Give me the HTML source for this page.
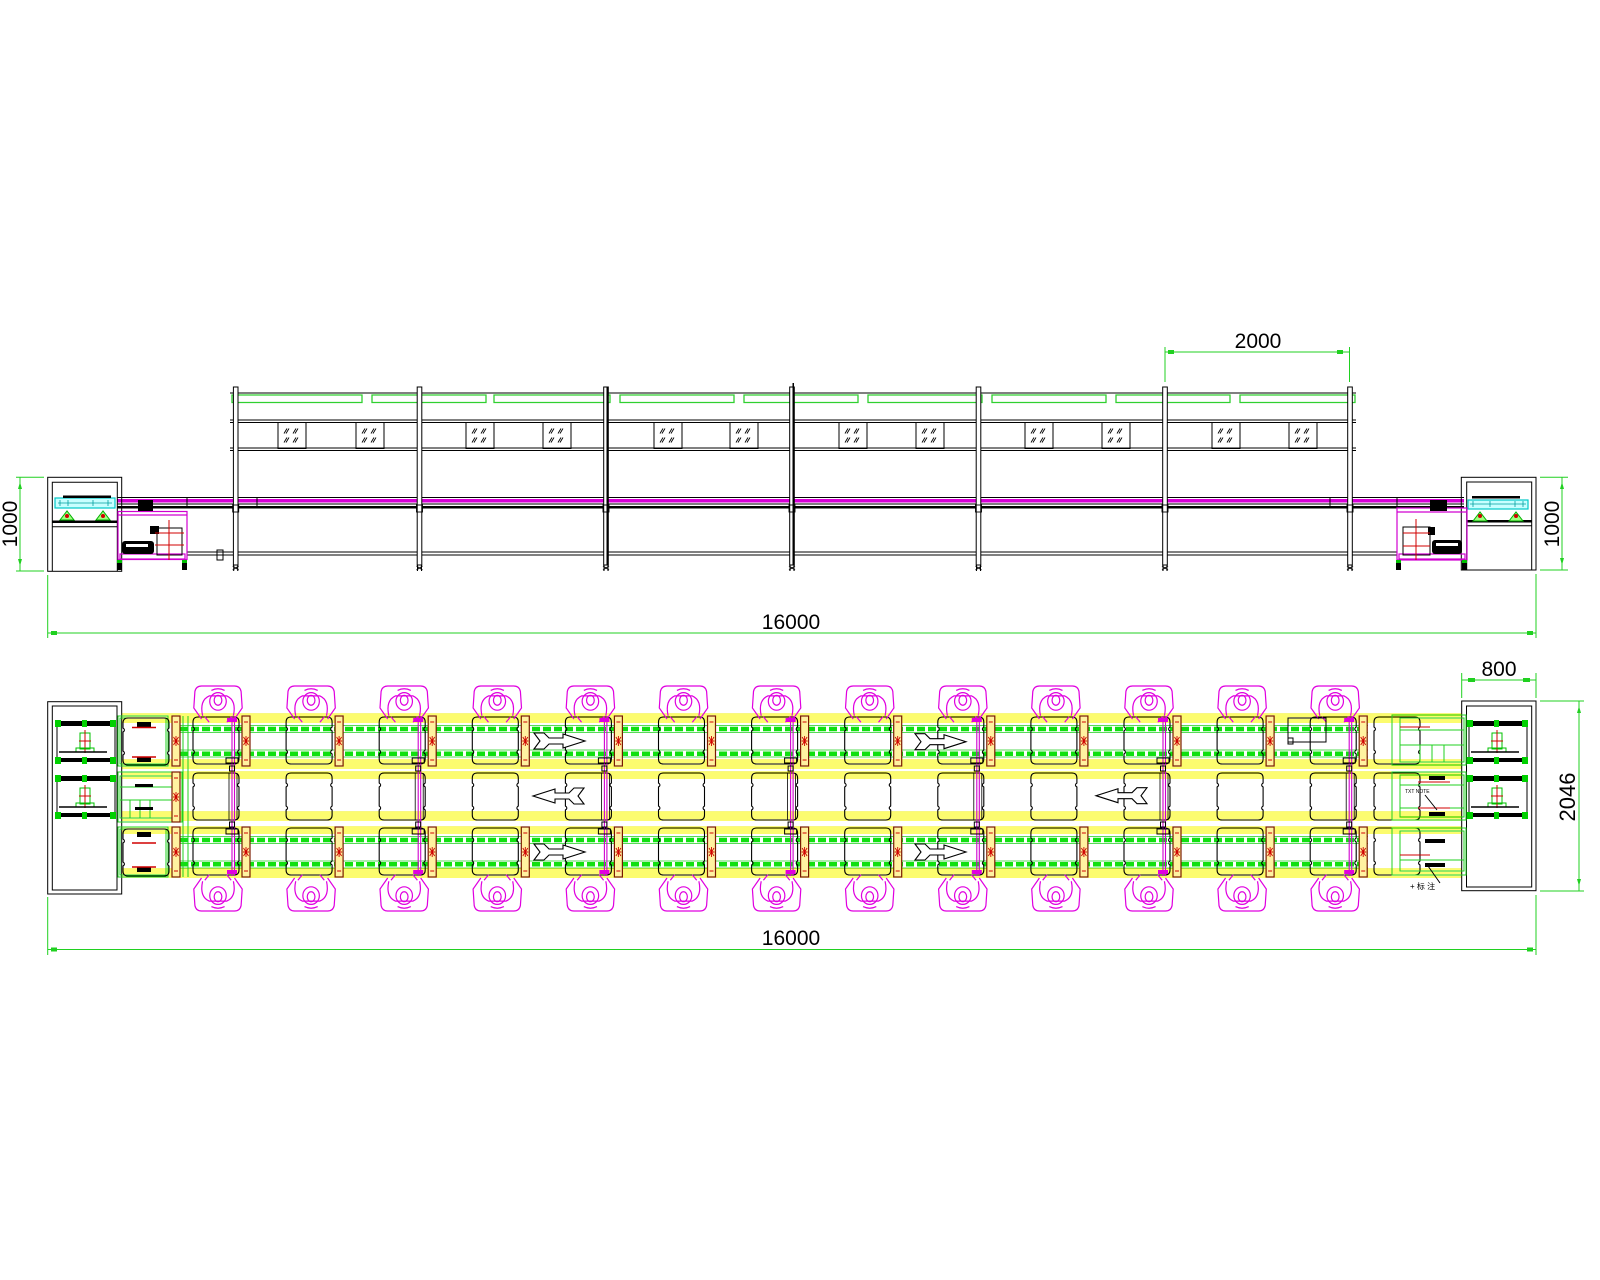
<!DOCTYPE html>
<html><head><meta charset="utf-8"><style>
html,body{margin:0;padding:0;background:#fff;}
svg{display:block;}
text{font-family:"Liberation Sans",sans-serif;fill:#000;}
</style></head><body>
<svg width="1600" height="1280" viewBox="0 0 1600 1280" xmlns="http://www.w3.org/2000/svg" xmlns:xlink="http://www.w3.org/1999/xlink">
<defs>
<path id="pal" d="M5,0 H41 Q46,0 46,5 V10 Q43,12 46,14 V33 Q43,35 46,37 V42 Q46,47 41,47 H5 Q0,47 0,42 V37 Q3,35 0,33 V14 Q3,12 0,10 V5 Q0,0 5,0 Z" fill="none" stroke="#000" stroke-width="1.1"/>
<g id="person" fill="none" stroke="#e000e0" stroke-width="1.1">
<path d="M-15,0 H15 Q20,0 21,5 L22,20 L15,30 M-15,0 Q-20,0 -21,5 L-22,20 L-15,30"/>
<path d="M-14,27 Q-17,13 -8,9 H8 Q17,13 14,27"/>
<ellipse cx="0" cy="14" rx="7.5" ry="8"/>
<ellipse cx="0" cy="13" rx="3.5" ry="4.5"/>
<path d="M-12,28 L-8,33 M12,28 L8,33 M-6,4 Q0,1 6,4"/>
</g>
<g id="stop">
<rect x="0" y="0" width="8" height="50" fill="#fff2a0" stroke="#7a1a00" stroke-width="1.2"/>
<path d="M1,25 H7 M4,20 V30 M1.5,21 L6.5,29 M6.5,21 L1.5,29" stroke="#d00000" stroke-width="0.9"/>
<path d="M2,6 H6 M2,44 H6" stroke="#d00000" stroke-width="1"/>
</g>
<g id="col">
<use xlink:href="#pal" y="717"/>
<use xlink:href="#pal" y="773"/>
<use xlink:href="#pal" y="828"/>
<use xlink:href="#stop" x="49" y="716"/>
<use xlink:href="#stop" x="49" y="827"/>
<use xlink:href="#person" transform="translate(25,686) scale(1.1)"/>
<use xlink:href="#person" transform="translate(25,911) scale(1.1,-1.1)"/>
</g>
<g id="ev">
<path d="M39,716 V876 M41.5,716 V876" stroke="#d000d0" stroke-width="1.1" fill="none"/>
<path d="M36,773 V820 M44,773 V820" stroke="#000" stroke-width="0.8" fill="none"/>
<rect x="36.5" y="766" width="5" height="5" fill="none" stroke="#000"/>
<rect x="36.5" y="822" width="5" height="5" fill="none" stroke="#000"/>
<rect x="34" y="718" width="10" height="4" fill="#e000e0"/>
<rect x="33" y="758" width="12" height="5" fill="none" stroke="#000"/>
<rect x="33" y="829" width="12" height="5" fill="none" stroke="#000"/>
<rect x="34" y="870" width="10" height="4" fill="#e000e0"/>
</g>
<g id="arrR" fill="#fff" stroke="#000" stroke-width="1.1">
<path d="M0,-8 L10,-8 L15,-3 L29,-3 L29,-7 L51,0 L29,7 L29,3 L15,3 L10,8 L0,8 L6,0 Z"/>
</g>
<g id="win">
<rect x="0" y="0" width="28" height="26" fill="none" stroke="#000" stroke-width="1"/>
<path d="M6,11 l3,-5 M8,11 l3,-5 M15,11 l3,-5 M17,11 l3,-5 M6,20 l3,-5 M8,20 l3,-5 M15,20 l3,-5 M17,20 l3,-5" stroke="#000" stroke-width="0.9"/>
</g>
<g id="post">
<rect x="-2.3" y="387" width="4.6" height="178" fill="#fff" stroke="#000" stroke-width="1"/>
<rect x="-3" y="505" width="6" height="7" fill="none" stroke="#000" stroke-width="0.9"/>
<path d="M-3,566 L3,570 M3,566 L-3,570 M-2,565 V571 M2,565 V571" stroke="#000" stroke-width="1"/>
</g>
<g id="mach" fill="none" stroke-width="1">
<rect x="0" y="3" width="58" height="36" stroke="#000"/>
<rect x="2" y="0" width="56" height="5" fill="#000"/>
<rect x="2" y="37" width="56" height="4" fill="#000"/>
<rect x="-2" y="-1" width="6" height="7" fill="#00d000"/>
<rect x="-2" y="36" width="6" height="7" fill="#00d000"/>
<rect x="53" y="-1" width="6" height="7" fill="#00d000"/>
<rect x="53" y="36" width="6" height="7" fill="#00d000"/>
<rect x="25" y="-1" width="5" height="7" fill="#00d000"/>
<rect x="25" y="36" width="5" height="7" fill="#00d000"/>
<rect x="23" y="12" width="10" height="16" stroke="#00c000"/>
<path d="M28,9 V32 M22,20 H34" stroke="#d00000"/>
<rect x="19" y="27" width="18" height="4" stroke="#00c000"/>
<path d="M2,31 H50" stroke="#000" stroke-width="1.5"/>
</g>
</defs>

<g fill="none" stroke="#000" stroke-width="1">
<line x1="230" y1="393" x2="1356" y2="393"/>
<path d="M232,395 H362 V402.5 H232 Z M372,395 H486 V402.5 H372 Z M494,395 H610 V402.5 H494 Z M620,395 H734 V402.5 H620 Z M744,395 H858 V402.5 H744 Z M868,395 H982 V402.5 H868 Z M992,395 H1106 V402.5 H992 Z M1116,395 H1230 V402.5 H1116 Z M1240,395 H1355 V402.5 H1240 Z" stroke="#30d030" stroke-width="1.3"/>
<line x1="230" y1="420" x2="1356" y2="420"/>
<line x1="230" y1="422.5" x2="1356" y2="422.5"/>
<line x1="230" y1="448" x2="1356" y2="448"/>
<line x1="230" y1="450.5" x2="1356" y2="450.5"/>
<line x1="187" y1="552" x2="1397" y2="552"/>
<line x1="187" y1="555" x2="1397" y2="555"/>
<line x1="117" y1="497.5" x2="1464" y2="497.5"/>
<line x1="117" y1="504" x2="1464" y2="504"/>
</g>
<rect x="117" y="499" width="1347" height="3.5" fill="#d800d8"/>
<rect x="117" y="506" width="1347" height="2.5" fill="#000"/>
<path d="M187,497 V507 M257,497 V507 M1330,497 V507 M1397,497 V507" stroke="#000"/>
<use xlink:href="#win" x="278" y="422.5"/><use xlink:href="#win" x="356" y="422.5"/>
<use xlink:href="#win" x="466" y="422.5"/><use xlink:href="#win" x="543" y="422.5"/>
<use xlink:href="#win" x="654" y="422.5"/><use xlink:href="#win" x="730" y="422.5"/>
<use xlink:href="#win" x="839" y="422.5"/><use xlink:href="#win" x="916" y="422.5"/>
<use xlink:href="#win" x="1025" y="422.5"/><use xlink:href="#win" x="1102" y="422.5"/>
<use xlink:href="#win" x="1212" y="422.5"/><use xlink:href="#win" x="1289" y="422.5"/>
<use xlink:href="#post" x="235.7"/><use xlink:href="#post" x="419.5"/>
<use xlink:href="#post" x="606"/><use xlink:href="#post" x="792"/>
<use xlink:href="#post" x="978.5"/><use xlink:href="#post" x="1165"/>
<use xlink:href="#post" x="1350"/>
<rect x="606.5" y="387" width="1.5" height="178" fill="#000"/>
<rect x="792.5" y="383" width="1.5" height="182" fill="#000"/>
<rect x="217" y="550" width="6" height="10" fill="none" stroke="#000"/>

<g fill="none" stroke="#000" stroke-width="1">
<rect x="47.7" y="477.3" width="74" height="94"/>
<path d="M52.3,571 V482.3 H117.3 V571"/>
<line x1="52.3" y1="526.7" x2="117.3" y2="526.7"/>
</g>
<rect x="52.3" y="520.5" width="65" height="2.5" fill="#000"/>
<rect x="55" y="498" width="60" height="10" fill="#c8ffff" stroke="#00c8c8" stroke-width="1.2"/>
<rect x="63" y="495.5" width="48" height="2.5" fill="#000"/>
<path d="M58,503 H112 M60,500 V506 M68,500 V506 M93,500 V506 M108,500 V506" stroke="#00a0a0" stroke-width="0.8"/>
<path d="M60,520 L67,511 L74,520 Z M96,520 L103,511 L110,520 Z" fill="#a0ff80" stroke="#00b000"/>
<circle cx="67" cy="516" r="2" fill="#d00000"/><circle cx="103" cy="516" r="2" fill="#d00000"/>
<g fill="none" stroke="#d000d0" stroke-width="1.2">
<rect x="118" y="511.5" width="69" height="48"/>
<rect x="120" y="554" width="65" height="5"/>
<line x1="118" y1="515" x2="187" y2="515"/>
</g>
<rect x="138" y="500" width="15" height="11" fill="#000"/>
<rect x="122" y="541" width="32" height="13" rx="3" fill="#000"/>
<rect x="126" y="544" width="22" height="3" fill="#fff"/>
<rect x="157" y="528" width="25" height="27" fill="none" stroke="#000"/>
<rect x="150" y="526" width="9" height="8" fill="#000"/>
<path d="M169,520 V560 M155,533 H184 M155,545 H184" stroke="#d00000"/>
<path d="M117,560 h5 v10 h-5 z M182,560 h5 v10 h-5 z" fill="#000"/>
<rect x="117" y="560" width="5" height="3" fill="#00c000"/><rect x="182" y="560" width="5" height="3" fill="#00c000"/>

<g fill="none" stroke="#000" stroke-width="1">
<rect x="1461.3" y="477.3" width="74.7" height="92.7"/>
<path d="M1466.7,570 V482 H1531.7 V570"/>
<line x1="1466.7" y1="525.7" x2="1531.7" y2="525.7"/>
</g>
<rect x="1466.7" y="520" width="65" height="2.5" fill="#000"/>
<rect x="1468" y="500" width="60" height="9" fill="#c8ffff" stroke="#00c8c8" stroke-width="1.2"/>
<rect x="1472" y="496" width="48" height="2.5" fill="#000"/>
<path d="M1470,504 H1526 M1473,501 V507 M1490,501 V507 M1515,501 V507 M1523,501 V507" stroke="#00a0a0" stroke-width="0.8"/>
<path d="M1473,521 L1480,512 L1487,521 Z M1509,521 L1516,512 L1523,521 Z" fill="#a0ff80" stroke="#00b000"/>
<circle cx="1480" cy="516" r="2" fill="#d00000"/><circle cx="1516" cy="516" r="2" fill="#d00000"/>
<g fill="none" stroke="#d000d0" stroke-width="1.2">
<rect x="1397" y="508" width="70" height="52"/>
<rect x="1399" y="554" width="66" height="5"/>
<line x1="1397" y1="512" x2="1467" y2="512"/>
</g>
<rect x="1430" y="500" width="17" height="11" fill="#000"/>
<rect x="1403" y="527" width="27" height="28" fill="none" stroke="#000"/>
<rect x="1428" y="527" width="7" height="8" fill="#000"/>
<path d="M1416,519 V560 M1403,533 H1430 M1403,546 H1430" stroke="#d00000"/>
<rect x="1432" y="540" width="30" height="14" rx="3" fill="#000"/>
<rect x="1436" y="543" width="22" height="3" fill="#fff"/>
<path d="M1396,560 h5 v10 h-5 z M1462,560 h5 v10 h-5 z" fill="#000"/>
<rect x="1396" y="560" width="5" height="3" fill="#00c000"/><rect x="1462" y="560" width="5" height="3" fill="#00c000"/>

<g stroke="#20d020" stroke-width="1" fill="none">
<line x1="20" y1="477" x2="20" y2="571"/>
<line x1="16" y1="477.3" x2="44" y2="477.3"/>
<line x1="16" y1="571" x2="44" y2="571"/>
<line x1="1562" y1="477" x2="1562" y2="570"/>
<line x1="1540" y1="477.3" x2="1568" y2="477.3"/>
<line x1="1540" y1="570" x2="1568" y2="570"/>
<line x1="1165" y1="352" x2="1350" y2="352"/>
<line x1="1165" y1="347" x2="1165" y2="382"/>
<line x1="1349.5" y1="347" x2="1349.5" y2="382"/>
<line x1="47.7" y1="575" x2="47.7" y2="638"/>
<line x1="1536" y1="574" x2="1536" y2="638"/>
<line x1="47.7" y1="633" x2="1536" y2="633"/>
<line x1="47.7" y1="897" x2="47.7" y2="955"/>
<line x1="1536" y1="895" x2="1536" y2="955"/>
<line x1="47.7" y1="949.5" x2="1536" y2="949.5"/>
<line x1="1461.7" y1="673" x2="1461.7" y2="698"/>
<line x1="1536" y1="673" x2="1536" y2="698"/>
<line x1="1461.7" y1="680" x2="1536" y2="680"/>
<line x1="1579" y1="701" x2="1579" y2="891"/>
<line x1="1540" y1="701" x2="1584" y2="701"/>
<line x1="1540" y1="891" x2="1584" y2="891"/>
</g>
<path d="M20,482 l-2,7 h4 z M20,566 l-2,-7 h4 z M1562,482 l-2,7 h4 z M1562,565 l-2,-7 h4 z M1579,706 l-2,7 h4 z M1579,886 l-2,-7 h4 z" fill="#20d020"/>
<path d="M51,631 h6 v4 h-6 z M1527,631 h6 v4 h-6 z M51,947.5 h6 v4 h-6 z M1527,947.5 h6 v4 h-6 z M1468,678 h7 v4 h-7 z M1523,678 h7 v4 h-7 z M1168,350 h6 v4 h-6 z M1337,350 h6 v4 h-6 z" fill="#20d020"/>
<text x="1258" y="348" font-size="21" text-anchor="middle">2000</text>
<text x="791" y="629" font-size="21" text-anchor="middle">16000</text>
<text x="791" y="945" font-size="21" text-anchor="middle">16000</text>
<text x="1499" y="676" font-size="21" text-anchor="middle">800</text>
<text transform="translate(17,524) rotate(-90)" font-size="21" text-anchor="middle">1000</text>
<text transform="translate(1559,524) rotate(-90)" font-size="21" text-anchor="middle">1000</text>
<text transform="translate(1575,797) rotate(-90)" font-size="22" text-anchor="middle">2046</text>

<g stroke="#f0f000" stroke-width="1" fill="none">
<path d="M117,714 H1470 M117,716 H1470 M117,718 H1470 M117,720 H1470 M117,722 H1470"/>
<path d="M117,760 H1470 M117,762 H1470 M117,764 H1470 M117,766 H1470 M117,768 H1470"/>
<path d="M117,772 H1470 M117,774 H1470 M117,776 H1470 M117,778 H1470"/>
<path d="M117,812 H1470 M117,814 H1470 M117,816 H1470 M117,818 H1470 M117,820 H1470"/>
<path d="M117,827 H1470 M117,829 H1470 M117,831 H1470 M117,833 H1470"/>
<path d="M117,869 H1470 M117,871 H1470 M117,873 H1470 M117,875 H1470 M117,877 H1470"/>
</g>
<rect x="117" y="714" width="1353" height="9" fill="#ffff60" opacity="0.55"/>
<rect x="117" y="760" width="1353" height="9" fill="#ffff60" opacity="0.55"/>
<rect x="117" y="772" width="1353" height="7" fill="#ffff60" opacity="0.5"/>
<rect x="117" y="812" width="1353" height="9" fill="#ffff60" opacity="0.5"/>
<rect x="117" y="827" width="1353" height="7" fill="#ffff60" opacity="0.55"/>
<rect x="117" y="869" width="1353" height="9" fill="#ffff60" opacity="0.55"/>
<g fill="none">
<path d="M180,729 H1368 M180,753.7 H1368 M180,840 H1368 M180,864.3 H1368" stroke="#10e010" stroke-width="4.5" stroke-dasharray="8 3"/>
<path d="M180,725.5 H1368 M180,732.5 H1368 M180,750 H1368 M180,757 H1368 M180,836.5 H1368 M180,843.5 H1368 M180,861 H1368 M180,868 H1368" stroke="#20d020" stroke-width="0.8"/>
</g>
<use xlink:href="#col" x="193"/><use xlink:href="#col" x="286.1"/><use xlink:href="#col" x="379.2"/>
<use xlink:href="#col" x="472.3"/><use xlink:href="#col" x="565.4"/><use xlink:href="#col" x="658.5"/>
<use xlink:href="#col" x="751.6"/><use xlink:href="#col" x="844.7"/><use xlink:href="#col" x="937.8"/>
<use xlink:href="#col" x="1030.9"/><use xlink:href="#col" x="1124"/><use xlink:href="#col" x="1217.1"/>
<use xlink:href="#col" x="1310.2"/>
<use xlink:href="#ev" x="193"/><use xlink:href="#ev" x="379.2"/><use xlink:href="#ev" x="565.4"/>
<use xlink:href="#ev" x="751.6"/><use xlink:href="#ev" x="937.8"/><use xlink:href="#ev" x="1124"/>
<use xlink:href="#ev" x="1310.2"/>
<rect x="1288" y="718" width="38" height="24" fill="none" stroke="#000"/>
<rect x="1288" y="738" width="5" height="6" fill="none" stroke="#000"/>
<use xlink:href="#arrR" transform="translate(534,741)"/>
<use xlink:href="#arrR" transform="translate(915,741.7)"/>
<use xlink:href="#arrR" transform="translate(534,852)"/>
<use xlink:href="#arrR" transform="translate(915,852)"/>
<use xlink:href="#arrR" transform="translate(584,796) scale(-1,1)"/>
<use xlink:href="#arrR" transform="translate(1147,795.7) scale(-1,1)"/>

<rect x="47.7" y="701.7" width="74" height="192.3" fill="#fff" stroke="#000"/>
<rect x="52.3" y="706" width="64.7" height="184" fill="none" stroke="#000"/>
<use xlink:href="#mach" x="57" y="721"/>
<use xlink:href="#mach" x="57" y="776"/>
<g fill="none" stroke="#20d020" stroke-width="1">
<rect x="118" y="716" width="50" height="50"/><rect x="120" y="718" width="46" height="46"/>
<rect x="118" y="827" width="50" height="50"/><rect x="120" y="829" width="46" height="46"/>
<rect x="118" y="772" width="64" height="50"/><rect x="120" y="776" width="60" height="42"/>
<path d="M120,787 H180 M120,800 H180 M130,800 V818 M140,800 V818 M150,800 V818 M183,716 V877 M188,716 V877"/>
</g>
<use xlink:href="#pal" x="123" y="718"/>
<use xlink:href="#pal" x="123" y="829"/>
<use xlink:href="#stop" x="172" y="716"/>
<use xlink:href="#stop" x="172" y="772"/>
<use xlink:href="#stop" x="172" y="827"/>
<g fill="#000">
<rect x="137" y="722" width="14" height="5"/><rect x="137" y="757" width="14" height="5"/>
<rect x="137" y="832" width="14" height="5"/><rect x="137" y="867" width="14" height="5"/>
<rect x="135" y="784" width="18" height="3"/><rect x="135" y="807" width="18" height="3"/>
</g>
<path d="M132,727.5 H156 M132,757 H156 M132,843 H156 M132,867 H156" stroke="#d00000" stroke-width="1.5"/>

<rect x="1461.7" y="701" width="74.3" height="189.7" fill="#fff" stroke="#000"/>
<rect x="1466.5" y="706" width="65.2" height="181" fill="none" stroke="#000"/>
<use xlink:href="#mach" x="1469" y="721"/>
<use xlink:href="#mach" x="1469" y="776"/>
<use xlink:href="#pal" x="1374" y="717"/>
<use xlink:href="#pal" x="1374" y="773"/>
<use xlink:href="#pal" x="1374" y="828"/>
<g fill="none" stroke="#20d020" stroke-width="1">
<rect x="1392" y="715" width="74" height="50"/><rect x="1400" y="718" width="64" height="44"/>
<rect x="1392" y="772" width="74" height="48"/><rect x="1400" y="775" width="64" height="42"/>
<rect x="1392" y="828" width="74" height="47"/><rect x="1400" y="831" width="64" height="40"/>
<path d="M1400,730 H1464 M1400,745 H1464 M1420,745 V762 M1432,745 V762 M1444,745 V762 M1400,785 H1464 M1400,808 H1464 M1400,860 H1464"/>
</g>
<g fill="#000">
<rect x="1429" y="776" width="16" height="4"/><rect x="1429" y="812" width="16" height="4"/>
<rect x="1425" y="839" width="20" height="4"/><rect x="1425" y="863" width="20" height="4"/>
</g>
<path d="M1418,782 H1450 M1418,808 H1450 M1400,727 H1430 M1400,855 H1430" stroke="#d00000" stroke-width="1"/>
<text x="1405" y="793" font-size="5">TXT NOTE</text>
<path d="M1425,795 L1437,810 M1428,866 L1440,883" stroke="#000" fill="none"/>
<text x="1410" y="889" font-size="8">+ 标 注</text>
</svg>
</body></html>
